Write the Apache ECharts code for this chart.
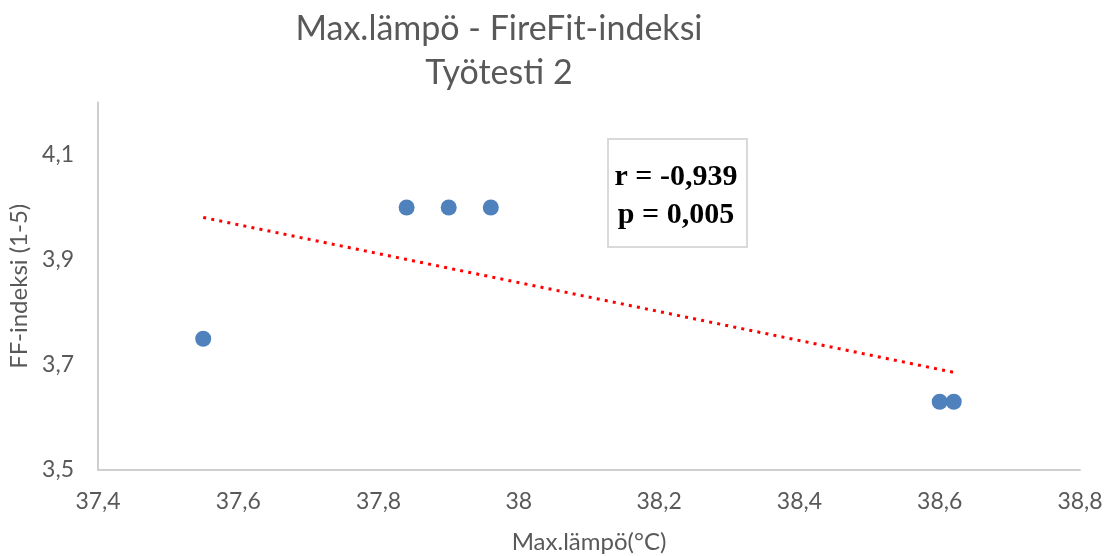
<!DOCTYPE html>
<html>
<head>
<meta charset="utf-8">
<script src="https://cdn.jsdelivr.net/npm/echarts@6/dist/echarts.min.js"></script>
<style>
html,body{margin:0;padding:0;background:#fff;}
#chart{width:1111px;height:556px;}
</style>
</head>
<body>
<div id="chart"></div>
<script>
// Data
var maxTemp = [37.55, 37.84, 37.90, 37.96, 38.60, 38.62];
var ffIndex = [3.75, 4.00, 4.00, 4.00, 3.63, 3.63];
var trendX = [37.55, 38.62];
var trendY = [3.981, 3.686];
var titleLines = ['Max.lämpö - FireFit-indeksi', 'Työtesti 2'];
var statLines = ['r = -0,939', 'p = 0,005'];
var xName = 'Max.lämpö(°C)';
var yName = 'FF-indeksi (1-5)';

function fmt(v){ return String(parseFloat(v.toFixed(1))).replace('.', ','); }

var chart = echarts.init(document.getElementById('chart'), null, {renderer:'canvas'});
var grey = '#595959';
var font = 'Lato, "Open Sans", sans-serif';

chart.setOption({
  animation:false,
  backgroundColor:'#ffffff',
  title:{
    text: titleLines.join('\n'),
    left: 494, top: 2,
    textAlign:'center',
    textStyle:{color:grey, fontFamily:font, fontSize:34, fontWeight:'normal', lineHeight:44}
  },
  grid:{left:98, right:31, top:102.5, bottom:86, containLabel:false, outerBoundsMode:'none'},
  xAxis:{
    type:'value', min:37.4, max:38.8, interval:0.2,
    name:xName, nameLocation:'middle', nameGap:60,
    nameTextStyle:{color:grey, fontFamily:font, fontSize:24},
    axisLine:{show:true, lineStyle:{color:'#cfcfcf', width:2}},
    axisTick:{show:false},
    splitLine:{show:false},
    axisLabel:{color:grey, fontFamily:font, fontSize:23, margin:20, formatter:fmt}
  },
  yAxis:{
    type:'value', min:3.5, max:4.2, interval:0.2,
    name:yName, nameLocation:'middle', nameGap:61, nameRotate:90,
    nameTextStyle:{color:grey, fontFamily:font, fontSize:24},
    axisLine:{show:true, lineStyle:{color:'#cfcfcf', width:2}},
    axisTick:{show:false},
    splitLine:{show:false},
    axisLabel:{color:grey, fontFamily:font, fontSize:23, margin:24, formatter:fmt, showMaxLabel:false}
  },
  series:[
    {
      type:'line',
      data: trendX.map(function(x,i){return [x, trendY[i]];}),
      symbol:'none',
      lineStyle:{color:'#ff0000', width:3, type:[3,5.2]},
      z:1
    },
    {
      type:'scatter',
      data: maxTemp.map(function(x,i){return [x, ffIndex[i]];}),
      symbol:'circle', symbolSize:16,
      itemStyle:{color:'#4f81bd', opacity:1},
      z:3
    }
  ],
  graphic:[
    {type:'rect', left:607, top:138, shape:{width:139, height:108},
     style:{fill:'#ffffff', stroke:'#d9d9d9', lineWidth:2}, z:10},
    {type:'text', x:676, y:177, style:{text:statLines[0], fill:'#000000',
      font:'bold 30px "Liberation Serif", serif', textAlign:'center', textVerticalAlign:'middle'}, z:11},
    {type:'text', x:676, y:215, style:{text:statLines[1], fill:'#000000',
      font:'bold 30px "Liberation Serif", serif', textAlign:'center', textVerticalAlign:'middle'}, z:11}
  ]
});
</script>
</body>
</html>
